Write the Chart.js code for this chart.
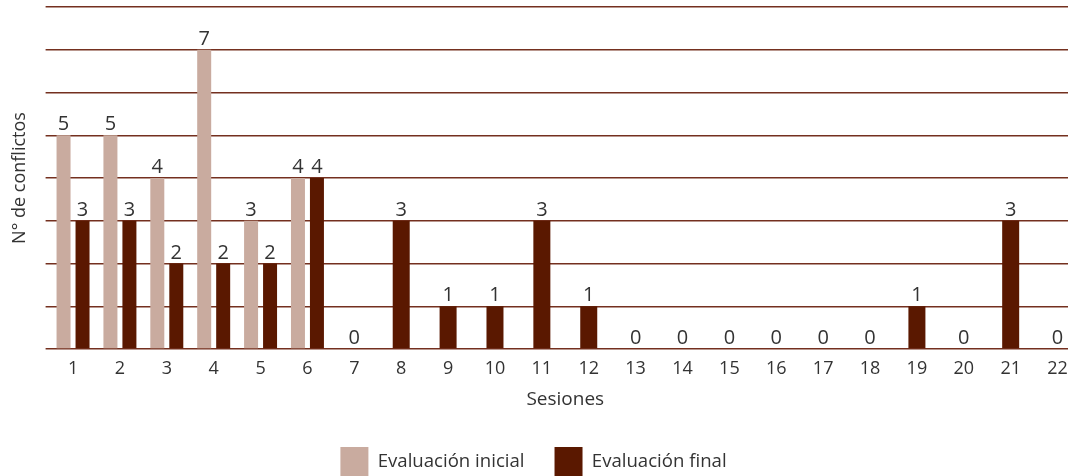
<!DOCTYPE html>
<html lang="es">
<head>
<meta charset="utf-8">
<title>N° de conflictos por sesión</title>
<script src="https://cdn.jsdelivr.net/npm/chart.js@4.4.1/dist/chart.umd.min.js"></script>
<style>
  html, body { margin: 0; padding: 0; background: #ffffff; overflow: hidden; width: 1068px; height: 476px; }
  #wrap { position: absolute; left: -14px; top: 0; width: 1095px; height: 487px; }
</style>
</head>
<body>
<div id="wrap"><canvas id="chart" width="1095" height="487"></canvas></div>
<script>
// Sessions on the x axis
const sessions = ['1','2','3','4','5','6','7','8','9','10','11','12','13','14','15','16','17','18','19','20','21','22'];
// Conflicts counted in the initial evaluation (only sessions 1-6 were evaluated)
const initialEval = [5, 5, 4, 7, 3, 4, null, null, null, null, null, null, null, null, null, null, null, null, null, null, null, null];
// Conflicts counted in the final evaluation
const finalEval = [3, 3, 2, 2, 2, 4, 0, 3, 1, 1, 3, 1, 0, 0, 0, 0, 0, 0, 1, 0, 3, 0];
const seriesNames = ['Evaluación inicial', 'Evaluación final'];
const seriesColors = ['#c9ab9f', '#5a1800'];
const yMin = 0;
const yMax = 8;

const textColor = '#333333';
const bodyFont = "'Open Sans', sans-serif";

// Writes each bar's value just above it
const valueLabels = {
  id: 'valueLabels',
  afterDatasetsDraw(chart) {
    const ctx = chart.ctx;
    ctx.save();
    ctx.font = '20px ' + bodyFont;
    ctx.fillStyle = textColor;
    ctx.textAlign = 'center';
    ctx.textBaseline = 'alphabetic';
    chart.data.datasets.forEach((ds, i) => {
      const meta = chart.getDatasetMeta(i);
      meta.data.forEach((bar, j) => {
        const v = ds.data[j];
        if (v === null || v === undefined) return;
        ctx.fillText(String(v), bar.x, bar.y - 5);
      });
    });
    ctx.restore();
  }
};

new Chart(document.getElementById('chart'), {
  type: 'bar',
  data: {
    labels: sessions,
    datasets: [
      { label: seriesNames[0], data: initialEval, backgroundColor: seriesColors[0] },
      { label: seriesNames[1], data: finalEval, backgroundColor: seriesColors[1] }
    ]
  },
  options: {
    responsive: false,
    animation: false,
    layout: { padding: { top: 7, left: 0, right: 0, bottom: 0 } },
    datasets: {
      bar: {
        skipNull: true,
        categoryPercentage: 0.81,
        barPercentage: 0.737,
        maxBarThickness: 17,
        borderWidth: 0
      }
    },
    scales: {
      x: {
        grid: { display: false, drawTicks: false },
        border: { display: false },
        ticks: {
          color: textColor,
          font: { family: bodyFont, size: 18, lineHeight: 1 },
          padding: 11,
          maxRotation: 0,
          autoSkip: false
        },
        title: {
          display: true,
          text: 'Sesiones',
          color: textColor,
          font: { family: bodyFont, size: 19, lineHeight: 1 },
          padding: { top: 1.5, bottom: 7.5 }
        }
      },
      y: {
        min: yMin,
        max: yMax,
        ticks: { display: false, stepSize: 1 },
        grid: { color: '#74301f', lineWidth: 1.5, drawTicks: true, tickLength: 4 },
        border: { display: false },
        title: {
          display: true,
          text: 'N° de conflictos',
          color: textColor,
          font: { family: bodyFont, size: 18 },
          padding: { top: 23, bottom: 15 }
        }
      }
    },
    plugins: {
      legend: {
        position: 'bottom',
        labels: {
          boxWidth: 28,
          boxHeight: 30,
          padding: 30,
          color: textColor,
          font: { family: bodyFont, size: 18.6 }
        }
      },
      tooltip: { enabled: false }
    }
  },
  plugins: [valueLabels]
});
</script>
</body>
</html>
